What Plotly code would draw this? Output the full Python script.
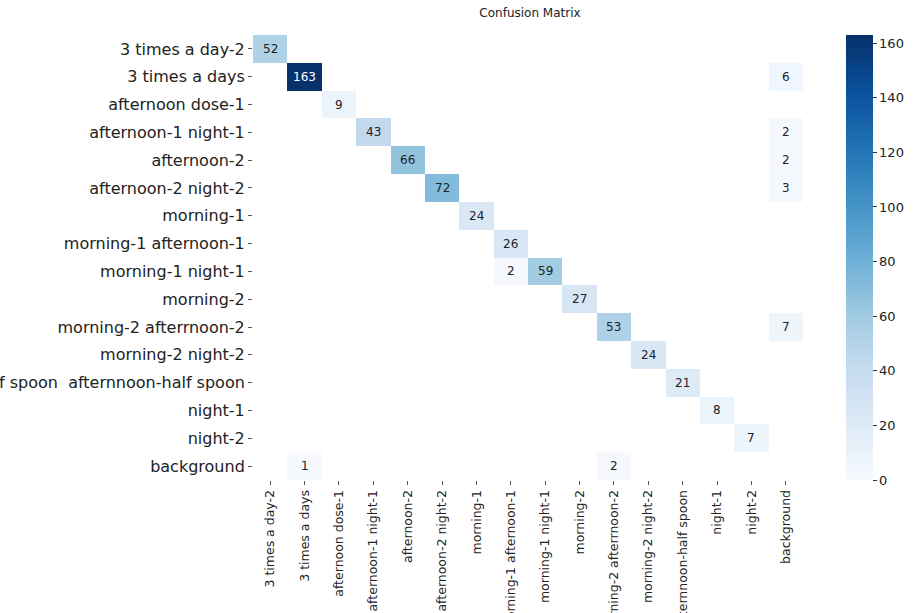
import numpy as np
import plotly.graph_objects as go
import plotly.colors as pc

labels = [
    "3 times a day-2", "3 times a days", "afternoon dose-1", "afternoon-1 night-1",
    "afternoon-2", "afternoon-2 night-2", "morning-1", "morning-1 afternoon-1",
    "morning-1 night-1", "morning-2", "morning-2 afterrnoon-2", "morning-2 night-2",
    "morning-half spoon\u00a0\u00a0afternnoon-half spoon", "night-1", "night-2", "background",
]
x_labels = [
    "3 times a day-2", "3 times a days", "afternoon dose-1", "afternoon-1 night-1",
    "afternoon-2", "afternoon-2 night-2", "morning-1", "morning-1 afternoon-1",
    "morning-1 night-1", "morning-2", "morning-2 afterrnoon-2", "morning-2 night-2",
    "morning-half spoon afternnoon-half spoon", "night-1", "night-2", "background",
]

# non-zero cells: (row, col, value)
cell_rows = [0, 1, 1, 2, 3, 3, 4, 4, 5, 5, 6, 7, 8, 8, 9, 10, 10, 11, 12, 13, 14, 15, 15]
cell_cols = [0, 1, 15, 2, 3, 15, 4, 15, 5, 15, 6, 7, 7, 8, 9, 10, 15, 11, 12, 13, 14, 1, 10]
cell_vals = [52, 163, 6, 9, 43, 2, 66, 2, 72, 3, 24, 26, 2, 59, 27, 53, 7, 24, 21, 8, 7, 1, 2]

n = len(labels)
z = np.full((n, n), np.nan)
for r, c, v in zip(cell_rows, cell_cols, cell_vals):
    z[r, c] = v

zmax = max(cell_vals)
fig = go.Figure()
fig.add_trace(go.Heatmap(
    z=z, x=list(range(n)), y=list(range(n)),
    colorscale=pc.sequential.Blues, zmin=0, zmax=zmax,
    hoverongaps=False,
    colorbar=dict(
        x=(851 - 253) / 555, xanchor="left", xref="paper", xpad=0,
        y=0.5, yanchor="middle", len=1.0, lenmode="fraction", ypad=0,
        thickness=27, outlinewidth=0,
        tickvals=[0, 20, 40, 60, 80, 100, 120, 140, 160],
        ticks="outside", ticklen=4, tickcolor="#333",
        tickfont=dict(family="DejaVu Sans", size=13, color="#222"),
    ),
))

annotations = []
for r, c, v in zip(cell_rows, cell_cols, cell_vals):
    annotations.append(dict(
        x=c, y=r, xref="x", yref="y", text=str(v), showarrow=False,
        font=dict(family="DejaVu Sans", size=12,
                  color="white" if v > 0.6 * zmax else "#222"),
    ))

fig.update_layout(
    template="none",
    width=916, height=613,
    margin=dict(l=253, r=108, t=35, b=133),
    paper_bgcolor="white", plot_bgcolor="white",
    title=dict(text="Confusion Matrix", x=530 / 916, xref="container",
               y=1 - 13 / 613, yanchor="middle", xanchor="center",
               font=dict(family="DejaVu Sans", size=12, color="#222")),
    annotations=annotations,
    xaxis=dict(
        tickmode="array", tickvals=list(range(n)), ticktext=x_labels,
        tickangle=-90, ticks="outside", ticklen=4, tickcolor="#555",
        showgrid=False, zeroline=False, showline=False, automargin=False,
        range=[-0.5, n - 0.5],
        tickfont=dict(family="DejaVu Sans", size=12.5, color="#222"),
    ),
    yaxis=dict(
        tickmode="array", tickvals=list(range(n)), ticktext=labels,
        ticks="outside", ticklen=4, tickcolor="#555",
        showgrid=False, zeroline=False, showline=False, automargin=False,
        range=[n - 0.5, -0.5],
        tickfont=dict(family="DejaVu Sans", size=16, color="#222"),
    ),
)

fig.write_html("out.html")
